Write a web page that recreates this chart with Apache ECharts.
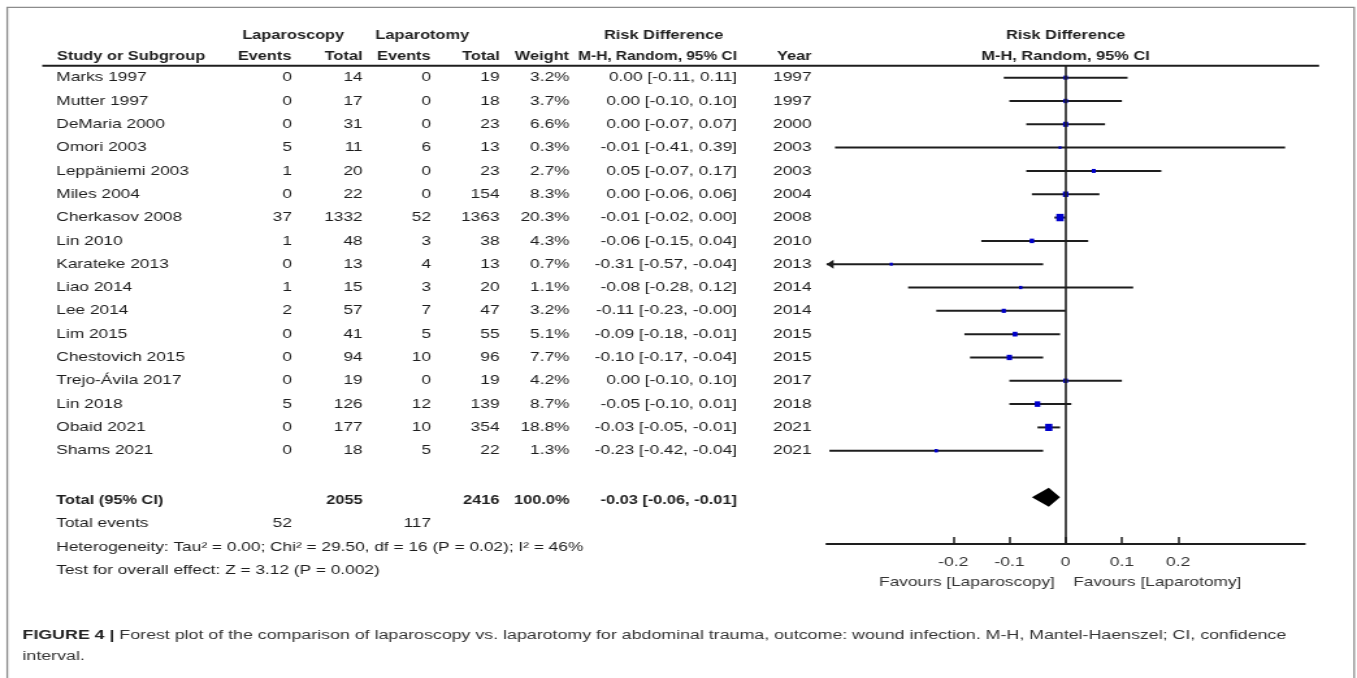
<!DOCTYPE html>
<html>
<head>
<meta charset="utf-8">
<script src="https://cdn.jsdelivr.net/npm/echarts@6/dist/echarts.min.js"></script>
<style>
  html, body { margin: 0; padding: 0; background: #fff; overflow: hidden; }
  #stage { width: 1357px; height: 678px; overflow: hidden; position: relative; }
  /* the figure is laid out on a 1044px-wide canvas and widened to the page */
  #chart { width: 1044px; height: 678px; transform: scaleX(1.29981); transform-origin: 0 0; }
</style>
</head>
<body>
<div id="stage"><div id="chart"></div></div>
<script>
// ---- study data ----
const studies = ['Marks 1997', 'Mutter 1997', 'DeMaria 2000', 'Omori 2003', 'Leppäniemi 2003', 'Miles 2004',
  'Cherkasov 2008', 'Lin 2010', 'Karateke 2013', 'Liao 2014', 'Lee 2014', 'Lim 2015', 'Chestovich 2015',
  'Trejo-Ávila 2017', 'Lin 2018', 'Obaid 2021', 'Shams 2021'];
const lapEvents = [0, 0, 0, 5, 1, 0, 37, 1, 0, 1, 2, 0, 0, 0, 5, 0, 0];
const lapTotal  = [14, 17, 31, 11, 20, 22, 1332, 48, 13, 15, 57, 41, 94, 19, 126, 177, 18];
const lapoEvents = [0, 0, 0, 6, 0, 0, 52, 3, 4, 3, 7, 5, 10, 0, 12, 10, 5];
const lapoTotal  = [19, 18, 23, 13, 23, 154, 1363, 38, 13, 20, 47, 55, 96, 19, 139, 354, 22];
const weights = [3.2, 3.7, 6.6, 0.3, 2.7, 8.3, 20.3, 4.3, 0.7, 1.1, 3.2, 5.1, 7.7, 4.2, 8.7, 18.8, 1.3];
const riskDiff = [0.00, 0.00, 0.00, -0.01, 0.05, 0.00, -0.01, -0.06, -0.31, -0.08, -0.11, -0.09, -0.10, 0.00, -0.05, -0.03, -0.23];
const ciLow  = [-0.11, -0.10, -0.07, -0.41, -0.07, -0.06, -0.02, -0.15, -0.57, -0.28, -0.23, -0.18, -0.17, -0.10, -0.10, -0.05, -0.42];
const ciHigh = [0.11, 0.10, 0.07, 0.39, 0.17, 0.06, 0.00, 0.04, -0.04, 0.12, -0.00, -0.01, -0.04, 0.10, 0.01, -0.01, -0.04];
const years = [1997, 1997, 2000, 2003, 2003, 2004, 2008, 2010, 2013, 2014, 2014, 2015, 2015, 2017, 2018, 2021, 2021];

// ---- pooled result ----
const pooledRD = -0.03, pooledLow = -0.06, pooledHigh = -0.01;
const lapTotalSum = 2055, lapoTotalSum = 2416, weightSum = '100.0%';
const lapEventsSum = 52, lapoEventsSum = 117;
const heterogeneityText = 'Heterogeneity: Tau² = 0.00; Chi² = 29.50, df = 16 (P = 0.02); I² = 46%';
const overallText = 'Test for overall effect: Z = 3.12 (P = 0.002)';

// ---- axis ----
const xTicks = [-0.2, -0.1, 0, 0.1, 0.2];
const favoursLeft = 'Favours [Laparoscopy]';
const favoursRight = 'Favours [Laparotomy]';
const captionBold = 'FIGURE 4 |';
const captionLine1 = ' Forest plot of the comparison of laparoscopy vs. laparotomy for abdominal trauma, outcome: wound infection. M-H, Mantel-Haenszel; CI, confidence';
const captionLine2 = 'interval.';

// ---- layout ----
const SX = 1.29981;           // horizontal widening applied by CSS
const XMIN = -0.425, XMAX = 0.425;
const FONT = 'Liberation Sans';
const INK = '#1e1e1e';
const BLUE = '#0000cc';
const BODY = 13.3, HEAD = 12.6, CAPTION = 13.7;
const COL = { study: 43.3, lapEv: 224.6, lapTot: 279, lapoEv: 331.6, lapoTot: 384.3, weight: 438.1, ci: 567, year: 624.4 };

const fmt = v => ((v < 0 || Object.is(v, -0)) ? '-' : '') + Math.abs(v).toFixed(2);
const ciText = (e, l, h) => fmt(e) + ' [' + fmt(l) + ', ' + fmt(h) + ']';

// table rows: [row index, cells...]
const tableRows = [];
studies.forEach((s, i) => {
  tableRows.push({ row: i, dy: 0, bold: false, cells: [
    ['study', s, 'left'], ['lapEv', String(lapEvents[i]), 'right'], ['lapTot', String(lapTotal[i]), 'right'],
    ['lapoEv', String(lapoEvents[i]), 'right'], ['lapoTot', String(lapoTotal[i]), 'right'],
    ['weight', weights[i].toFixed(1) + '%', 'right'], ['ci', ciText(riskDiff[i], ciLow[i], ciHigh[i]), 'right'],
    ['year', String(years[i]), 'right']
  ]});
});
tableRows.push({ row: 18, dy: 3, bold: true, cells: [
  ['study', 'Total (95% CI)', 'left'], ['lapTot', String(lapTotalSum), 'right'], ['lapoTot', String(lapoTotalSum), 'right'],
  ['weight', weightSum, 'right'], ['ci', ciText(pooledRD, pooledLow, pooledHigh), 'right']
]});
tableRows.push({ row: 19, dy: 3, bold: false, cells: [
  ['study', 'Total events', 'left'], ['lapEv', String(lapEventsSum), 'right'], ['lapoEv', String(lapoEventsSum), 'right']
]});
tableRows.push({ row: 20, dy: 3, bold: false, cells: [['study', heterogeneityText, 'left']] });
tableRows.push({ row: 21, dy: 3, bold: false, cells: [['study', overallText, 'left']] });

function txt(x, y, text, align, bold, color, size) {
  return {
    type: 'text', x: x, y: y, silent: true,
    style: {
      text: text, fill: color || INK, fontFamily: FONT, fontSize: size || (bold ? HEAD : BODY),
      fontWeight: bold ? 'bold' : 'normal',
      align: align, verticalAlign: 'middle', textAlign: align, textVerticalAlign: 'middle'
    }
  };
}

const chart = echarts.init(document.getElementById('chart'), null, { renderer: 'canvas' });

const option = {
  animation: false,
  backgroundColor: '#fff',
  grid: { left: 635.9, right: 40.2, top: 66, bottom: 134, containLabel: false },
  xAxis: {
    type: 'value', min: XMIN, max: XMAX,
    axisLine: { show: true, onZero: false, lineStyle: { color: INK, width: 1.8 } },
    axisTick: { show: true, inside: true, length: 7, customValues: xTicks, lineStyle: { color: INK, width: 1.5 } },
    axisLabel: { show: true, customValues: xTicks, margin: 11, color: '#333', fontFamily: FONT, fontSize: 13.5,
      formatter: v => String(v) },
    splitLine: { show: false }
  },
  yAxis: { type: 'value', min: -0.5, max: 20, inverse: true, show: false, splitLine: { show: false } },
  graphic: [
    // outer frame
    { type: 'rect', silent: true, shape: { x: 5.6, y: 7.3, width: 1036.2, height: 700 },
      style: { fill: 'none', stroke: '#8c8c8c', lineWidth: 1.3 } },
    // rule under the column headers
    { type: 'line', silent: true, shape: { x1: 32.5, y1: 65.7, x2: 1014.8, y2: 65.7 },
      style: { stroke: INK, lineWidth: 2 } },
    txt(225.6, 36, 'Laparoscopy', 'center', true),
    txt(324.9, 36, 'Laparotomy', 'center', true),
    txt(510.6, 36, 'Risk Difference', 'center', true),
    txt(819.8, 36, 'Risk Difference', 'center', true),
    txt(43.8, 57, 'Study or Subgroup', 'left', true),
    txt(224.2, 57, 'Events', 'right', true),
    txt(279, 57, 'Total', 'right', true),
    txt(331.3, 57, 'Events', 'right', true),
    txt(384.6, 57, 'Total', 'right', true),
    txt(437.8, 57, 'Weight', 'right', true),
    txt(567, 57, 'M-H, Random, 95% CI', 'right', true, INK, 11.9),
    txt(624.4, 57, 'Year', 'right', true),
    txt(819.8, 57, 'M-H, Random, 95% CI', 'center', true),
    // caption
    { type: 'text', x: 17.3, y: 635, silent: true,
      style: { text: '{b|' + captionBold + '}' + captionLine1, fill: '#333', fontFamily: FONT, fontSize: CAPTION,
        verticalAlign: 'middle', textVerticalAlign: 'middle',
        rich: { b: { fontWeight: 'bold', fill: '#222', color: '#222', fontFamily: FONT, fontSize: CAPTION } } } },
    { type: 'text', x: 17.3, y: 656, silent: true,
      style: { text: captionLine2, fill: '#333', fontFamily: FONT, fontSize: CAPTION,
        verticalAlign: 'middle', textVerticalAlign: 'middle' } }
  ],
  series: [
    // table text, one row per data item on the shared row scale
    {
      type: 'custom', name: 'table', clip: false, silent: true,
      encode: { x: 0, y: 1 },
      data: tableRows.map(r => [0, r.row]),
      renderItem: function (params, api) {
        const r = tableRows[params.dataIndex];
        const y = api.coord([0, r.row])[1] + r.dy;
        return {
          type: 'group',
          children: r.cells.map(c => txt(COL[c[0]], y, c[1], c[2], r.bold))
        };
      }
    },
    // study confidence intervals and point estimates
    {
      type: 'custom', name: 'studies', clip: false, silent: true,
      encode: { x: [0, 2, 3], y: 1 },
      data: studies.map((s, i) => [riskDiff[i], i, ciLow[i], ciHigh[i], weights[i]]),
      renderItem: function (params, api) {
        const est = api.value(0), row = api.value(1), lo = api.value(2), hi = api.value(3), w = api.value(4);
        const pLo = api.coord([Math.max(lo, XMIN), row]);
        const pHi = api.coord([Math.min(hi, XMAX), row]);
        const pE = api.coord([est, row]);
        const side = 2 + 1.2 * Math.sqrt(w);
        const children = [
          { type: 'line', shape: { x1: pLo[0], y1: pLo[1], x2: pHi[0], y2: pHi[1] },
            style: { stroke: INK, lineWidth: 2 } }
        ];
        if (lo < XMIN) {
          children.push({ type: 'polygon', shape: { points: [[pLo[0], pLo[1]], [pLo[0] + 7 / SX, pLo[1] - 4.5], [pLo[0] + 7 / SX, pLo[1] + 4.5]] },
            style: { fill: INK } });
        }
        if (hi > XMAX) {
          children.push({ type: 'polygon', shape: { points: [[pHi[0], pHi[1]], [pHi[0] - 7 / SX, pHi[1] - 4.5], [pHi[0] - 7 / SX, pHi[1] + 4.5]] },
            style: { fill: INK } });
        }
        children.push({ type: 'rect', shape: { x: pE[0] - side / SX / 2, y: pE[1] - side / 2, width: side / SX, height: side },
          style: { fill: BLUE } });
        return { type: 'group', children: children };
      },
      markLine: {
        silent: true, symbol: 'none', animation: false,
        label: { show: false },
        lineStyle: { color: INK, width: 1.6, type: 'solid' },
        data: [{ xAxis: 0 }]
      }
    },
    // pooled estimate diamond
    {
      type: 'custom', name: 'pooled', clip: false, silent: true,
      encode: { x: [0, 2, 3], y: 1 },
      data: [[pooledRD, 18, pooledLow, pooledHigh]],
      renderItem: function (params, api) {
        const row = api.value(1);
        const pE = api.coord([api.value(0), row]);
        const pL = api.coord([api.value(2), row]);
        const pH = api.coord([api.value(3), row]);
        const h = 9.5;
        return { type: 'polygon', shape: { points: [[pL[0], pL[1]], [pE[0], pE[1] - h], [pH[0], pH[1]], [pE[0], pE[1] + h]] },
          style: { fill: '#000' } };
      }
    },
    // favours labels under the axis
    {
      type: 'custom', name: 'favours', clip: false, silent: true,
      encode: { x: 0, y: 1 },
      data: [[0, 20]],
      renderItem: function (params, api) {
        const p = api.coord([api.value(0), api.value(1)]);
        return { type: 'group', children: [
          txt(p[0] - 8.3, p[1] + 38, favoursLeft, 'right', false, '#333', 13.3),
          txt(p[0] + 5.8, p[1] + 38, favoursRight, 'left', false, '#333', 13.3)
        ] };
      }
    }
  ]
};

chart.setOption(option);
</script>
</body>
</html>
